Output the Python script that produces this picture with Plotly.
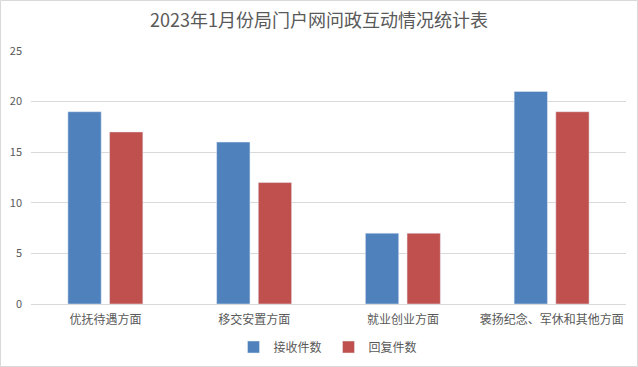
import plotly.graph_objects as go

categories = ["优抚待遇方面", "移交安置方面", "就业创业方面", "褒扬纪念、军休和其他方面"]
received = [19, 16, 7, 21]
replied = [17, 12, 7, 19]
series_names = ["接收件数", "回复件数"]
y_ticks = [0, 5, 10, 15, 20, 25]

FONT = "Noto Sans CJK SC"
W, H = 638, 367
ml, mr, mt, mb = 31, 12, 51, 63
pw, ph = W - ml - mr, H - mt - mb

fig = go.Figure()
fig.add_trace(go.Bar(x=categories, y=received, name=series_names[0], marker_color="#4F81BD"))
fig.add_trace(go.Bar(x=categories, y=replied, name=series_names[1], marker_color="#C0504D"))

fig.update_layout(
    width=W, height=H,
    margin=dict(l=ml, r=mr, t=mt, b=mb, autoexpand=False),
    paper_bgcolor="white", plot_bgcolor="white",
    font=dict(family=FONT, color="#595959", size=12),
    title=dict(text="2023年1月份局门户网问政互动情况统计表", x=0.5, xanchor="center",
               y=1 - 21 / H, yanchor="middle", font=dict(size=18, color="#595959", family=FONT)),
    barmode="group", bargap=0.44, bargroupgap=0.2,
    showlegend=True,
    legend=dict(orientation="h", x=0.5, xanchor="center", yref="container", y=1 - 347 / H, yanchor="middle",
                font=dict(size=12, color="#595959"), itemwidth=30, tracegroupgap=0,
                entrywidth=50),
    xaxis=dict(showgrid=False, showline=True, linecolor="#D9D9D9", linewidth=1, ticks="",
               ticklabelstandoff=5, automargin=False, tickfont=dict(size=12, color="#595959")),
    yaxis=dict(range=[0, 25], tickvals=y_ticks, showgrid=True, gridcolor="#D9D9D9", gridwidth=1,
               zeroline=False, showline=False, ticks="", ticklabelstandoff=8, automargin=False,
               tickfont=dict(size=11, color="#595959")),
    shapes=[dict(type="rect", xref="paper", yref="paper",
                 x0=(-ml + 0.5) / pw, x1=(pw + mr - 0.5) / pw,
                 y0=(-mb + 0.5) / ph, y1=(ph + mt - 0.5) / ph,
                 line=dict(color="#D9D9D9", width=1), layer="below")],
)

fig.write_html("out.html", config={"displayModeBar": False},
               post_script="document.body.style.margin='0';document.body.style.overflow='hidden';")
